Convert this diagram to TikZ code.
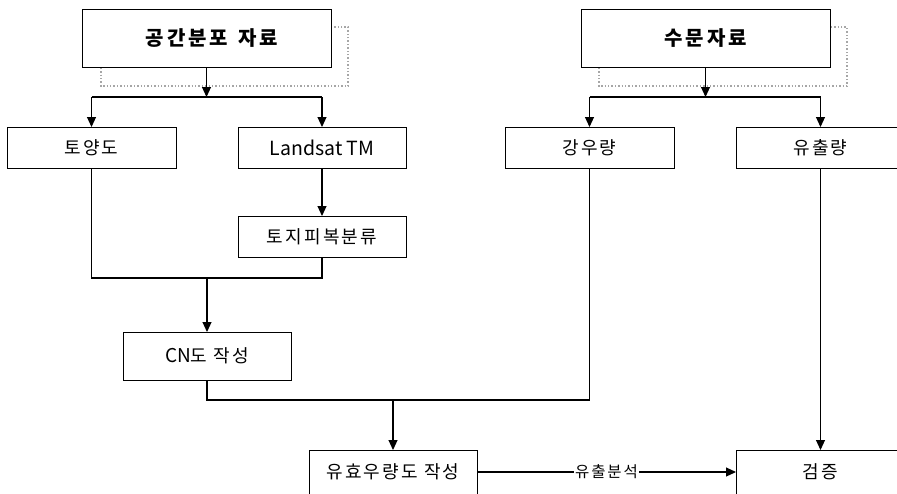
\documentclass[tikz,border=0pt]{standalone}
\usepackage{fontspec}
\setmainfont{Noto Sans CJK KR}
\newfontfamily\krsp[LetterSpace=12]{Noto Sans CJK KR}
\newfontfamily\krhead[LetterSpace=15]{Noto Sans CJK KR}
\usetikzlibrary{arrows.meta}
\tikzset{
  box/.style={draw=black, line width=0.9pt, fill=white, inner sep=0pt, outer sep=0pt, minimum width=168pt, minimum height=41pt, font=\fontsize{18}{20}\selectfont\krsp},
  latinbox/.style={box, font=\fontsize{19.5}{22}\selectfont},
  headbox/.style={box, minimum width=249pt, minimum height=58pt, font=\fontsize{20}{23}\selectfont\krhead\bfseries},
  shadow/.style={draw=gray!70, dotted, line width=1.4pt},
  conn/.style={line width=1.1pt},
  arr/.style={conn, -{Triangle[length=10pt,width=9pt]}},
  lbl/.style={fill=white, inner sep=1pt, font=\fontsize{15.5}{17}\selectfont\krsp}
}
\begin{document}
\begin{tikzpicture}[x=1pt,y=-1pt]
\useasboundingbox (0,0) rectangle (897,493);
% shadows
\draw[shadow] (101,27) rectangle (348,86);
\draw[shadow] (599,27) rectangle (847,86);
% header boxes
\node[headbox] (t1) at (206.5,38) {\hspace{11pt}공간분포\hspace{10pt}자료};
\node[headbox] (t2) at (705.5,38) {수문자료};
% second row
\node[box, minimum width=169pt] (soil) at (91.5,147.5) {토양도};
\node[latinbox] (landsat) at (322,147.5) {Landsat TM};
\node[box] (lulc) at (322,236.5) {토지피복분류};
\node[box, minimum width=169pt] (rain) at (589.5,147.5) {강우량};
\node[box, minimum width=169pt] (runoff) at (820.5,147.5) {유출량};
\node[box, minimum height=48pt] (cn) at (207,356) {{\fontsize{19}{20}\selectfont\normalfont CN}도 작성};
\node[box, minimum height=44pt] (eff) at (393,472) {유효우량도 작성};
\node[box, minimum width=169pt, minimum height=44pt] (ver) at (820.5,472) {검증};
% junction coordinates
\coordinate (j1) at (206.5,97);
\coordinate (j2) at (705.5,97);
\coordinate (j3) at (207,278);
\coordinate (j4) at (393,400);
% header 1 split
\draw[arr] (t1.south) -- (j1);
\draw[conn] (soil.north |- j1) -- (landsat.north |- j1);
\draw[arr] (soil.north |- j1) -- (soil.north);
\draw[arr] (landsat.north |- j1) -- (landsat.north);
% header 2 split
\draw[arr] (t2.south) -- (j2);
\draw[conn] (rain.north |- j2) -- (runoff.north |- j2);
\draw[arr] (rain.north |- j2) -- (rain.north);
\draw[arr] (runoff.north |- j2) -- (runoff.north);
% landsat to lulc
\draw[arr] (landsat.south) -- (lulc.north);
% merge soil + lulc
\draw[conn] (soil.south) |- (j3) -| (lulc.south);
\draw[arr] (j3) -- (cn.north);
% merge cn + rain
\draw[conn] (cn.south) |- (j4) -| (rain.south);
\draw[arr] (j4) -- (eff.north);
% runoff analysis
\draw[arr] (eff.east) -- node[lbl] (ra) {유출분석} (ver.west);
\draw[arr] (runoff.south) -- (ver.north);
\end{tikzpicture}
\end{document}
